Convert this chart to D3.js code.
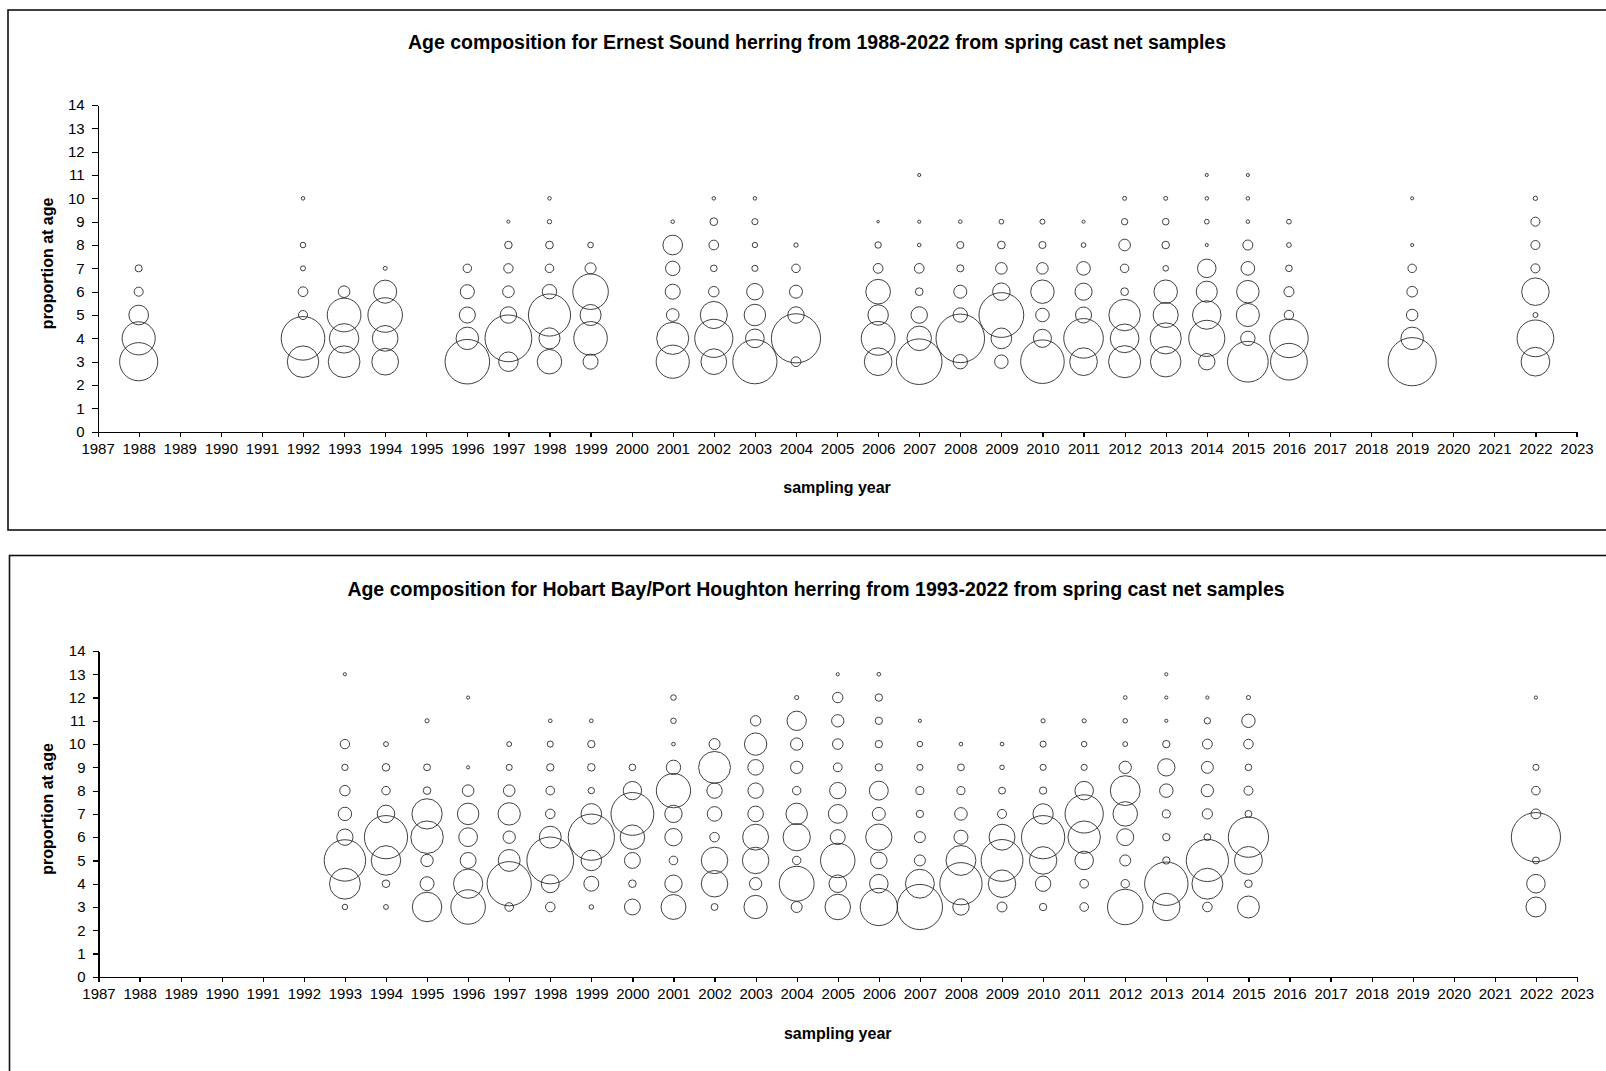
<!DOCTYPE html>
<html>
<head>
<meta charset="utf-8">
<script src="https://cdn.jsdelivr.net/npm/d3@7"></script>
<style>
  html, body { margin: 0; padding: 0; background: #fff; }
  svg { display: block; font-family: "Liberation Sans", Arial, sans-serif; }
  .axis path, .axis line { stroke: #000; stroke-width: 1.2; shape-rendering: crispEdges; }
  .axis text { font-size: 15px; fill: #000; }
  .title, .alabel { font-weight: bold; fill: #000; }
  .bubble { fill: none; stroke: #2a2a2a; stroke-width: 0.9; }
</style>
</head>
<body>
<svg id="chart" width="1606" height="1071"></svg>
<script>
// Sampling year range shown on the x axis and age range on the y axis
const yearDomain = [1987, 2023];
const ageDomain = [0, 14];
const yearTicks = d3.range(1987, 2024);
const ageTicks = d3.range(0, 15);

// Ernest Sound: proportion at age by sampling year, [age, proportion]
const ernestYears = [1988, 1992, 1993, 1994, 1996, 1997, 1998, 1999, 2001, 2002, 2003, 2004,
  2006, 2007, 2008, 2009, 2010, 2011, 2012, 2013, 2014, 2015, 2016, 2019, 2022];
const ernestProps = [
  [[3,.463],[4,.349],[5,.123],[6,.026],[7,.016]],
  [[3,.316],[4,.604],[5,.026],[6,.030],[7,.008],[8,.010],[10,.004]],
  [[3,.320],[4,.277],[5,.362],[6,.043]],
  [[3,.227],[4,.210],[5,.379],[6,.170],[7,.005]],
  [[3,.632],[4,.161],[5,.082],[6,.063],[7,.023]],
  [[3,.121],[4,.696],[5,.086],[6,.043],[7,.028],[8,.018],[9,.003]],
  [[3,.191],[4,.141],[5,.565],[6,.066],[7,.023],[8,.019],[9,.006],[10,.004]],
  [[3,.072],[4,.358],[5,.141],[6,.402],[7,.039],[8,.010]],
  [[3,.349],[4,.328],[5,.051],[6,.072],[7,.066],[8,.123],[9,.004]],
  [[3,.210],[4,.463],[5,.234],[6,.035],[7,.014],[8,.030],[9,.019],[10,.004]],
  [[3,.621],[4,.111],[5,.147],[6,.086],[7,.012],[8,.009],[9,.012],[10,.004]],
  [[3,.030],[4,.770],[5,.086],[6,.054],[7,.023],[8,.006]],
  [[3,.244],[4,.362],[5,.133],[6,.194],[7,.030],[8,.013],[9,.002]],
  [[3,.661],[4,.191],[5,.086],[6,.019],[7,.030],[8,.004],[9,.003],[11,.003]],
  [[3,.066],[4,.751],[5,.066],[6,.054],[7,.016],[8,.016],[9,.004]],
  [[3,.058],[4,.136],[5,.638],[6,.097],[7,.043],[8,.019],[9,.007]],
  [[3,.604],[4,.104],[5,.058],[6,.175],[7,.042],[8,.016],[9,.008]],
  [[3,.244],[4,.498],[5,.082],[6,.093],[7,.059],[8,.007],[9,.003]],
  [[3,.328],[4,.262],[5,.316],[6,.019],[7,.023],[8,.043],[9,.013],[10,.005]],
  [[3,.296],[4,.308],[5,.200],[6,.175],[7,.010],[8,.018],[9,.014],[10,.005]],
  [[3,.086],[4,.415],[5,.259],[6,.141],[7,.109],[8,.003],[9,.007],[10,.004],[11,.003]],
  [[3,.528],[4,.066],[5,.170],[6,.161],[7,.059],[8,.032],[9,.004],[10,.004],[11,.003]],
  [[3,.429],[4,.473],[5,.028],[6,.032],[7,.014],[8,.007],[9,.007]],
  [[3,.738],[4,.161],[5,.042],[6,.036],[7,.023],[8,.003],[10,.003]],
  [[3,.262],[4,.429],[5,.008],[6,.241],[7,.026],[8,.026],[9,.026],[10,.006]]
];

// Hobart Bay / Port Houghton: proportion at age by sampling year, [age, proportion]
const hobartYears = [1993, 1994, 1995, 1996, 1997, 1998, 1999, 2000, 2001, 2002, 2003, 2004,
  2005, 2006, 2007, 2008, 2009, 2010, 2011, 2012, 2013, 2014, 2015, 2022];
const hobartProps = [
  [[3,.009],[4,.283],[5,.509],[6,.079],[7,.053],[8,.032],[9,.012],[10,.026],[13,.003]],
  [[3,.007],[4,.017],[5,.258],[6,.554],[7,.091],[8,.021],[9,.017],[10,.007]],
  [[3,.258],[4,.058],[5,.045],[6,.313],[7,.272],[8,.017],[9,.014],[11,.005]],
  [[3,.352],[4,.254],[5,.075],[6,.104],[7,.137],[8,.040],[9,.003],[12,.003]],
  [[3,.022],[4,.580],[5,.142],[6,.045],[7,.148],[8,.040],[9,.011],[10,.007]],
  [[3,.027],[4,.095],[5,.650],[6,.142],[7,.027],[8,.022],[9,.016],[10,.011],[11,.004]],
  [[3,.006],[4,.066],[5,.125],[6,.633],[7,.125],[8,.012],[9,.017],[10,.016],[11,.004]],
  [[3,.075],[4,.017],[5,.075],[6,.178],[7,.544],[8,.100],[9,.013]],
  [[3,.184],[4,.089],[5,.022],[6,.089],[7,.089],[8,.348],[9,.061],[10,.004],[11,.009],[12,.009]],
  [[3,.014],[4,.208],[5,.208],[6,.027],[7,.063],[8,.070],[9,.301],[10,.036]],
  [[3,.161],[4,.045],[5,.208],[6,.199],[7,.072],[8,.070],[9,.072],[10,.148],[11,.032]],
  [[3,.036],[4,.360],[5,.021],[6,.221],[7,.137],[8,.021],[9,.045],[10,.045],[11,.111],[12,.005]],
  [[3,.193],[4,.091],[5,.352],[6,.066],[7,.104],[8,.079],[9,.023],[10,.033],[11,.045],[12,.032],[13,.003]],
  [[3,.411],[4,.102],[5,.081],[6,.205],[7,.050],[8,.106],[9,.016],[10,.016],[11,.016],[12,.016],[13,.004]],
  [[3,.606],[4,.247],[5,.036],[6,.036],[7,.016],[8,.019],[9,.011],[10,.009],[11,.003]],
  [[3,.079],[4,.529],[5,.265],[6,.058],[7,.047],[8,.019],[9,.014],[10,.004]],
  [[3,.029],[4,.224],[5,.519],[6,.199],[7,.024],[8,.014],[9,.006],[10,.004]],
  [[3,.016],[4,.070],[5,.224],[6,.554],[7,.122],[8,.016],[9,.011],[10,.011],[11,.005]],
  [[3,.022],[4,.022],[5,.102],[6,.313],[7,.434],[8,.102],[9,.011],[10,.009],[11,.005]],
  [[3,.373],[4,.021],[5,.036],[6,.085],[7,.178],[8,.265],[9,.045],[10,.007],[11,.006],[12,.004]],
  [[3,.224],[4,.559],[5,.016],[6,.016],[7,.019],[8,.054],[9,.089],[10,.016],[11,.003],[12,.003],[13,.003]],
  [[3,.027],[4,.283],[5,.529],[6,.014],[7,.031],[8,.045],[9,.042],[10,.029],[11,.012],[12,.003]],
  [[3,.142],[4,.017],[5,.231],[6,.480],[7,.014],[8,.024],[9,.013],[10,.027],[11,.053],[12,.005]],
  [[3,.118],[4,.102],[5,.014],[6,.718],[7,.029],[8,.022],[9,.011],[12,.003]]
];

const svg = d3.select("#chart");

// Flatten year rows into one record per bubble
function toRecords(years, props) {
  const out = [];
  years.forEach((yr, i) => props[i].forEach(([age, p]) => out.push({ year: yr, age, p })));
  return out;
}

function drawPanel(cfg) {
  const g = svg.append("g");

  // panel border
  g.append("rect")
    .attr("x", cfg.frame.x).attr("y", cfg.frame.y)
    .attr("width", cfg.frame.w).attr("height", cfg.frame.h)
    .attr("fill", "none").attr("stroke", "#111").attr("stroke-width", 1.6);

  const x = d3.scaleLinear().domain(yearDomain).range([cfg.left, cfg.right]);
  const y = d3.scaleLinear().domain(ageDomain).range([cfg.bottom, cfg.top]);
  const recs = toRecords(cfg.years, cfg.props);
  // bubble area is proportional to proportion at age; largest bubble gets a fixed size
  const r = d3.scaleSqrt().domain([0, d3.max(recs, d => d.p)]).range([0, 24.6]);

  g.append("text").attr("class", "title")
    .attr("x", cfg.titleX).attr("y", cfg.titleY)
    .attr("text-anchor", "middle").attr("dominant-baseline", "central")
    .style("font-size", "19.5px")
    .text(cfg.title);

  g.append("g").attr("class", "axis")
    .attr("transform", `translate(0,${cfg.bottom})`)
    .call(d3.axisBottom(x).tickValues(yearTicks).tickFormat(d3.format("d"))
      .tickSize(5).tickSizeOuter(0).tickPadding(6.5));

  g.append("g").attr("class", "axis")
    .attr("transform", `translate(${cfg.left},0)`)
    .call(d3.axisLeft(y).tickValues(ageTicks).tickFormat(d3.format("d"))
      .tickSize(6).tickSizeOuter(0).tickPadding(7));

  g.append("text").attr("class", "alabel")
    .attr("transform", `translate(${cfg.yLabelX},${(cfg.top + cfg.bottom) / 2 - 5}) rotate(-90)`)
    .attr("text-anchor", "middle").attr("dominant-baseline", "central")
    .style("font-size", "16px")
    .text("proportion at age");

  g.append("text").attr("class", "alabel")
    .attr("x", (cfg.left + cfg.right) / 2).attr("y", cfg.xLabelY)
    .attr("text-anchor", "middle").attr("dominant-baseline", "central")
    .style("font-size", "16px")
    .text("sampling year");

  g.append("g").selectAll("circle").data(recs).join("circle")
    .attr("class", "bubble")
    .attr("cx", d => x(d.year))
    .attr("cy", d => y(d.age))
    .attr("r", d => r(d.p));
}

drawPanel({
  frame: { x: 8, y: 10, w: 1610, h: 520 },
  title: "Age composition for Ernest Sound herring from 1988-2022 from spring cast net samples",
  titleX: 817, titleY: 42,
  left: 97.6, right: 1576.5, top: 105, bottom: 431.7,
  yLabelX: 47, xLabelY: 487,
  years: ernestYears, props: ernestProps
});

drawPanel({
  frame: { x: 9.5, y: 555.5, w: 1610, h: 530 },
  title: "Age composition for Hobart Bay/Port Houghton herring from 1993-2022 from spring cast net samples",
  titleX: 816, titleY: 589,
  left: 98.5, right: 1577, top: 651, bottom: 976.8,
  yLabelX: 47, xLabelY: 1033,
  years: hobartYears, props: hobartProps
});
</script>
</body>
</html>
